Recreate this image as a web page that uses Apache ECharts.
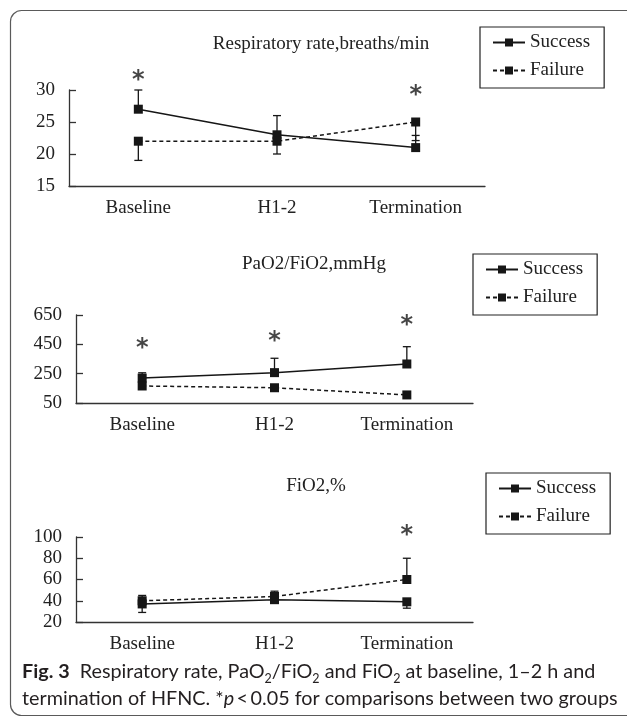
<!DOCTYPE html>
<html><head><meta charset="utf-8">
<script src="https://cdn.jsdelivr.net/npm/echarts@6/dist/echarts.min.js"></script>
<style>html,body{margin:0;padding:0;background:#fff;}#c{width:627px;height:717px;}</style>
</head><body><div id="c"></div>
<script>
// ---- data ----
const categories = ['Baseline', 'H1-2', 'Termination'];
const seriesNames = ['Success', 'Failure'];

const rrTicks = [15, 20, 25, 30];
const rrSuccess = [27, 23, 21];
const rrFailure = [22, 22, 25];
const rrSuccessErrEnd = [30, 26, 22.9];
const rrFailureErrEnd = [19, 20, 22.1];
const rrStars = [32.4, null, 30];

const pfTicks = [50, 250, 450, 650];
const pfSuccess = [220, 257, 316];
const pfFailure = [166, 154, 105];
const pfSuccessErrEnd = [256, 355, 434];
const pfFailureErrEnd = [null, null, null];
const pfStars = [459, 507, 616];

const fiTicks = [20, 40, 60, 80, 100];
const fiSuccess = [37, 41, 39];
const fiFailure = [40, 44, 60];
const fiSuccessErrEnd = [29, 38, 33];
const fiFailureErrEnd = [45, 49, 80];
const fiStars = [null, null, 106.6];

const titles = ['Respiratory rate,breaths/min', 'PaO2/FiO2,mmHg', 'FiO2,%'];

// ---- layout / style ----
const SERIF = 'Liberation Serif';
const INK = '#161616';
const layout = [
  { grid: { left: 69, top: 90, width: 416, height: 96 }, titleX: 321, titleY: 34, legend: { left: 480, top: 27 } },
  { grid: { left: 76, top: 315, width: 397, height: 88 }, titleX: 314, titleY: 254, legend: { left: 473, top: 254 } },
  { grid: { left: 76, top: 537, width: 397, height: 85 }, titleX: 316, titleY: 476, legend: { left: 486, top: 473 } }
];
const panels = [
  { ticks: rrTicks, s: rrSuccess, f: rrFailure, se: rrSuccessErrEnd, fe: rrFailureErrEnd, stars: rrStars },
  { ticks: pfTicks, s: pfSuccess, f: pfFailure, se: pfSuccessErrEnd, fe: pfFailureErrEnd, stars: pfStars },
  { ticks: fiTicks, s: fiSuccess, f: fiFailure, se: fiSuccessErrEnd, fe: fiFailureErrEnd, stars: fiStars }
];

function errData(vals, ends) {
  const out = [];
  vals.forEach((v, i) => { if (ends[i] != null) out.push([i, v, ends[i]]); });
  return out;
}
function renderErr(params, api) {
  const x = api.value(0);
  const p1 = api.coord([x, api.value(1)]);
  const p2 = api.coord([x, api.value(2)]);
  const cap = 4;
  const st = { stroke: INK, lineWidth: 1.3 };
  return { type: 'group', children: [
    { type: 'line', shape: { x1: p1[0], y1: p1[1], x2: p2[0], y2: p2[1] }, style: st },
    { type: 'line', shape: { x1: p2[0] - cap, y1: p2[1], x2: p2[0] + cap, y2: p2[1] }, style: st }
  ] };
}

const grid = [], xAxis = [], yAxis = [], series = [], legend = [], title = [];
panels.forEach((p, k) => {
  const L = layout[k];
  grid.push(Object.assign({ containLabel: false }, L.grid));
  title.push({ text: titles[k], left: L.titleX, top: L.titleY, textAlign: 'center', padding: 0,
    textStyle: { fontFamily: SERIF, fontSize: 19, fontWeight: 'normal', color: '#222', lineHeight: 20 } });
  xAxis.push({ type: 'category', gridIndex: k, data: categories, boundaryGap: true,
    axisLine: { lineStyle: { color: '#333', width: 1.3 } },
    axisTick: { inside: true, length: 8, interval: 0, lineStyle: { color: '#333', width: 1.3 } },
    axisLabel: { margin: 13, fontFamily: SERIF, fontSize: 19, color: '#222', interval: 0 },
    splitLine: { show: false } });
  yAxis.push({ type: 'value', gridIndex: k, min: p.ticks[0], max: p.ticks[p.ticks.length - 1],
    axisLine: { show: true, lineStyle: { color: '#333', width: 1.3 } },
    axisTick: { show: true, inside: true, length: 7, customValues: p.ticks, lineStyle: { color: '#333', width: 1.3 } },
    axisLabel: { margin: 14, fontFamily: SERIF, fontSize: 19, color: '#222', customValues: p.ticks },
    splitLine: { show: false } });
  series.push({ type: 'custom', xAxisIndex: k, yAxisIndex: k, renderItem: renderErr, z: 1,
    encode: { x: 0, y: [1, 2] }, data: errData(p.s, p.se), silent: true });
  series.push({ type: 'custom', xAxisIndex: k, yAxisIndex: k, renderItem: renderErr, z: 1,
    encode: { x: 0, y: [1, 2] }, data: errData(p.f, p.fe), silent: true });
  series.push({ type: 'line', name: seriesNames[0], xAxisIndex: k, yAxisIndex: k, data: p.s,
    symbol: 'rect', symbolSize: 9, z: 3,
    lineStyle: { color: INK, width: 1.5, type: 'solid' }, itemStyle: { color: INK } });
  series.push({ type: 'line', name: seriesNames[1], xAxisIndex: k, yAxisIndex: k, data: p.f,
    symbol: 'rect', symbolSize: 9, z: 3,
    lineStyle: { color: INK, width: 1.5, type: [4, 3] }, itemStyle: { color: INK } });
  const starData = [];
  p.stars.forEach((v, i) => { if (v != null) starData.push([i, v]); });
  series.push({ type: 'scatter', xAxisIndex: k, yAxisIndex: k, data: starData, clip: false,
    symbolSize: 1, itemStyle: { color: 'rgba(0,0,0,0)' }, silent: true, z: 4,
    label: { show: true, position: 'inside', formatter: '*', fontFamily: 'DejaVu Sans', fontSize: 24,
      fontWeight: 'bold', color: INK, offset: [0, 6] } });
  legend.push({ left: L.legend.left, top: L.legend.top, orient: 'vertical', data: seriesNames,
    itemWidth: 32, itemHeight: 10, itemGap: 9, padding: [6, 14, 8, 12], borderColor: '#222', borderWidth: 1.2,
    selectedMode: false, textStyle: { fontFamily: SERIF, fontSize: 19, color: '#222', lineHeight: 19 } });
});

const chart = echarts.init(document.getElementById('c'));
chart.setOption({
  backgroundColor: '#fff',
  animation: false,
  grid, xAxis, yAxis, series, legend, title,
  graphic: [
    { type: 'rect', shape: { x: 10.5, y: 10.5, width: 660, height: 705, r: 11 },
      style: { fill: 'none', stroke: '#5a5a5a', lineWidth: 1.2 }, silent: true },
    { type: 'text', left: 22, top: 658, silent: true,
      style: {
        text: '{b|Fig. 3}  Respiratory rate, PaO{s|2}/FiO{s|2} and FiO{s|2} at baseline, 1\u20132 h and\ntermination of HFNC. *{i|p}\u2009<\u20090.05 for comparisons between two groups',
        fontFamily: 'Lato', fontSize: 19.8, lineHeight: 27, fill: '#231f20',
        rich: {
          b: { fontFamily: 'Lato', fontSize: 19.8, fontWeight: 'bold', lineHeight: 27, fill: '#231f20' },
          s: { fontFamily: 'Lato', fontSize: 12.5, lineHeight: 17, verticalAlign: 'bottom', fill: '#231f20' },
          i: { fontFamily: 'Lato', fontSize: 19.8, fontStyle: 'italic', lineHeight: 27, fill: '#231f20' }
        }
      } }
  ]
});
</script>
</body></html>
